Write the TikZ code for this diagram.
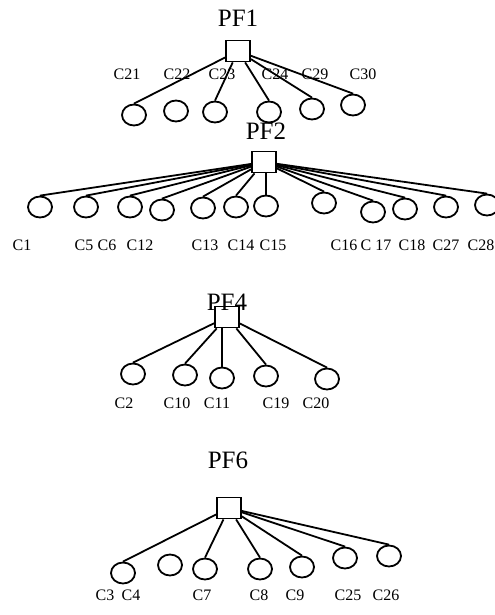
\documentclass[tikz,border=0pt]{standalone}
\usepackage{fontspec}
\setmainfont{Liberation Serif}
\usetikzlibrary{shapes.geometric}

\begin{document}
\begin{tikzpicture}[x=0.5pt, y=-0.5pt, line width=0.9pt,
  box/.style={draw, rectangle, minimum width=12pt, minimum height=10.5pt, inner sep=0pt},
  leaf/.style={draw, ellipse, minimum width=12pt, minimum height=10.5pt, inner sep=0pt},
  pflabel/.style={font=\fontsize{12.5}{14}\selectfont, inner sep=0pt},
  clabel/.style={font=\fontsize{8}{9.6}\selectfont, inner sep=0pt}]
  \useasboundingbox (0,0) rectangle (494,615);

  % PF1 and its children
  \node[pflabel] (t1) at (238,18) {PF1};
  \node[box] (pf1) at (238,51) {};
  \node[leaf] (a2) at (176,111) {};
  \foreach \x/\y/\n in {134/115/1, 215/112/3, 269/112/4, 312/109/5, 353/105/6} {
    \node[leaf] (a\n) at (\x,\y) {};
    \draw (pf1) -- (a\n.north);
  }
  \foreach \x/\t [count=\i] in {127/C21, 177/C22, 222/C23, 275/C24, 315/C29, 363/C30}
    \node[clabel] (la\i) at (\x,74) {\t};

  % PF2 and its children
  \node[pflabel] (t2) at (266,131) {PF2};
  \node[box] (pf2) at (264,162) {};
  \node[leaf] (b7) at (266,206) {};
  \draw (pf2.south -| b7.north) -- (b7.north);
  \foreach \x/\y/\n in {40/207/1, 86/207/2, 130/207/3, 162/210/4, 203/208/5, 236/207/6,
                        324/203/8, 373/212/9, 405/209/10, 446/207/11, 487/205/12} {
    \node[leaf] (b\n) at (\x,\y) {};
    \draw (pf2) -- (b\n.north);
  }
  \foreach \x/\t [count=\i] in {22/C1, 84/C5, 107/C6, 140/C12, 205/C13, 241/C14, 273/C15,
                                344/C16, 376/C 17, 412/C18, 446/C27, 481/C28}
    \node[clabel] (lb\i) at (\x,245) {\t};

  % PF4 and its children
  \node[pflabel] (t4) at (227,302) {PF4};
  \node[box] (pf4) at (227,317) {};
  \node[leaf] (d3) at (222,378) {};
  \draw (pf4.south -| d3.north) -- (d3.north);
  \foreach \x/\y/\n in {133/374/1, 185/375/2, 266/376/4, 327/379/5} {
    \node[leaf] (d\n) at (\x,\y) {};
    \draw (pf4) -- (d\n.north);
  }
  \foreach \x/\t [count=\i] in {124/C2, 177/C10, 217/C11, 276/C19, 316/C20}
    \node[clabel] (ld\i) at (\x,403) {\t};

  % PF6 and its children
  \node[pflabel] (t6) at (228,460) {PF6};
  \node[box] (pf6) at (229,508) {};
  \node[leaf] (f2) at (170,565) {};
  \foreach \x/\y/\n in {123/573/1, 205/569/3, 260/569/4, 302/567/5, 345/558/6, 389/556/7} {
    \node[leaf] (f\n) at (\x,\y) {};
    \draw (pf6) -- (f\n.north);
  }
  \foreach \x/\t [count=\i] in {105/C3, 131/C4, 202/C7, 259/C8, 295/C9, 348/C25, 386/C26}
    \node[clabel] (lf\i) at (\x,595) {\t};
\end{tikzpicture}
\end{document}
